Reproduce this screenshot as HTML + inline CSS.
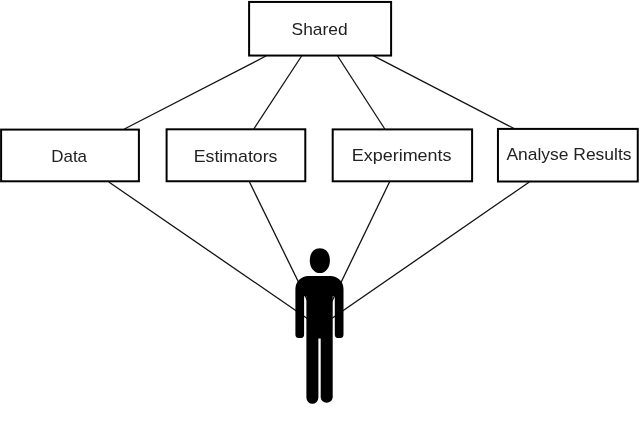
<!DOCTYPE html>
<html>
<head>
<meta charset="utf-8">
<title>Diagram</title>
<style>
html,body{margin:0;padding:0;background:#fff;}
body{width:640px;height:431px;overflow:hidden;font-family:"Liberation Sans",sans-serif;}
svg{display:block;will-change:transform;}
text{font-family:"Liberation Sans",sans-serif;fill:#222;}
</style>
</head>
<body>
<svg width="640" height="431" viewBox="0 0 640 431">
<rect width="640" height="431" fill="#fff"/>
<g stroke="#111" stroke-width="1.3" fill="none">
<line x1="266" y1="56" x2="124.4" y2="129"/>
<line x1="301.6" y1="56" x2="253.8" y2="129"/>
<line x1="337.6" y1="56" x2="384.8" y2="129"/>
<line x1="373.6" y1="55.8" x2="515" y2="129"/>
<line x1="108.8" y1="182" x2="320" y2="327.2"/>
<line x1="249.5" y1="182" x2="320" y2="326"/>
<line x1="389.5" y1="182" x2="320" y2="326"/>
<line x1="529.3" y1="182" x2="320.8" y2="326"/>
</g>
<g stroke="#000" stroke-width="2" fill="#fff">
<rect x="249.1" y="1.95" width="142" height="53.6"/>
<rect x="1.1" y="129.6" width="137.8" height="51.7"/>
<rect x="166.6" y="129.3" width="138.7" height="51.95"/>
<rect x="332.7" y="129.4" width="139.4" height="51.9"/>
<rect x="497.95" y="128.9" width="139.8" height="52.6"/>
</g>
<g font-size="17">
<text x="291.6" y="35.3" textLength="56" lengthAdjust="spacingAndGlyphs">Shared</text>
<text x="51.25" y="161.6" textLength="35.8" lengthAdjust="spacingAndGlyphs">Data</text>
<text x="193.7" y="161.75" textLength="83.8" lengthAdjust="spacingAndGlyphs">Estimators</text>
<text x="351.8" y="160.5" textLength="99.7" lengthAdjust="spacingAndGlyphs">Experiments</text>
<text x="506.4" y="160" textLength="125.1" lengthAdjust="spacingAndGlyphs">Analyse Results</text>
</g>
<g fill="#000">
<path d="M319.85 248.3 C326.08 248.3 329.9 253.01 329.9 260.7 C329.9 267.77 325.58 273.1 319.85 273.1 C314.12 273.1 309.8 267.77 309.8 260.7 C309.8 253.01 313.62 248.3 319.85 248.3 Z"/>
<path d="M308.4 276 H330.5 A13 13 0 0 1 343.5 289 V334.2 A3 3.8 0 0 1 340.5 338 H337.8 A3 3.8 0 0 1 334.8 334.2 V296.3 H332.7 V397.5 A6.1 6.3 0 0 1 320.7 397.5 V338.5 H318.4 V397.5 A6 6.3 0 0 1 306.4 397.5 V296.3 H304.1 V334.2 A3 3.8 0 0 1 301.1 338 H298.4 A3 3.8 0 0 1 295.4 334.2 V289 A13 13 0 0 1 308.4 276 Z"/>
</g>
</svg>
</body>
</html>
